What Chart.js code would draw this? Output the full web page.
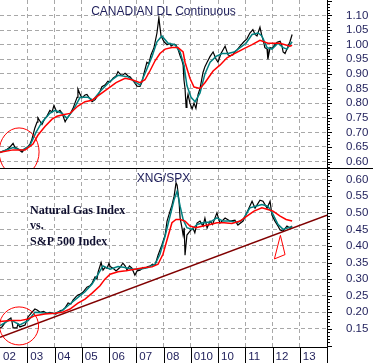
<!DOCTYPE html>
<html lang="en">
<head>
  <meta charset="UTF-8">
  <title>Canadian Dollar vs XNG/SPX</title>
  <style>
    body { margin: 0; background: #fff; }
    #chart { display: block; }
  </style>
</head>
<body>
  <canvas id="chart" width="373" height="363"></canvas>

  <script src="https://cdn.jsdelivr.net/npm/chart.js"></script>
  <script>
    // ---- data (dates as decimal years) ----
    // Canadian dollar, continuous contract
    const cadDates = [2002.00, 2002.07, 2002.18, 2002.26, 2002.37, 2002.48, 2002.55, 2002.62, 2002.73, 2002.81, 2002.92, 2002.99,
      2003.10, 2003.17, 2003.28, 2003.36, 2003.39, 2003.47, 2003.54, 2003.65, 2003.72, 2003.83, 2003.91, 2003.98,
      2004.09, 2004.20, 2004.28, 2004.39, 2004.46, 2004.57, 2004.68, 2004.75, 2004.83, 2004.86, 2004.94,
      2005.01, 2005.12, 2005.19, 2005.30, 2005.38, 2005.49, 2005.56, 2005.67, 2005.74, 2005.85, 2005.96,
      2006.04, 2006.15, 2006.26, 2006.33, 2006.40, 2006.48, 2006.59, 2006.70, 2006.77, 2006.88, 2006.95,
      2007.03, 2007.14, 2007.21, 2007.28, 2007.39, 2007.46, 2007.54, 2007.65, 2007.76, 2007.83, 2007.87, 2007.91,
      2008.02, 2008.13, 2008.24, 2008.28, 2008.39, 2008.46, 2008.53, 2008.61, 2008.68, 2008.72, 2008.75, 2008.79, 2008.83, 2008.86, 2008.90, 2008.97,
      2009.05, 2009.12, 2009.19, 2009.27, 2009.34, 2009.45, 2009.52, 2009.60, 2009.71, 2009.82, 2009.93,
      2010.00, 2010.11, 2010.26, 2010.37, 2010.44, 2010.55, 2010.62, 2010.70, 2010.81, 2010.95,
      2011.06, 2011.17, 2011.28, 2011.36, 2011.43, 2011.54, 2011.61, 2011.65, 2011.72, 2011.80, 2011.83, 2011.91, 2011.98,
      2012.09, 2012.17, 2012.28, 2012.35, 2012.39, 2012.46, 2012.53, 2012.64, 2012.72];
    const cadClose = [0.630, 0.634, 0.638, 0.642, 0.650, 0.662, 0.648, 0.646, 0.638, 0.632, 0.644, 0.648,
      0.660, 0.676, 0.715, 0.735, 0.750, 0.738, 0.727, 0.748, 0.755, 0.775, 0.770, 0.792,
      0.768, 0.775, 0.765, 0.736, 0.748, 0.762, 0.782, 0.800, 0.820, 0.848, 0.830,
      0.818, 0.828, 0.830, 0.815, 0.805, 0.812, 0.822, 0.840, 0.856, 0.862, 0.875,
      0.872, 0.885, 0.893, 0.908, 0.900, 0.895, 0.902, 0.893, 0.890, 0.878, 0.868,
      0.858, 0.857, 0.872, 0.900, 0.940, 0.935, 0.965, 0.990, 1.040, 1.092, 1.060, 1.030,
      1.010, 1.000, 1.005, 0.995, 1.002, 0.998, 0.985, 0.962, 0.945, 0.930, 0.880, 0.850, 0.785, 0.810, 0.830, 0.800,
      0.780, 0.800, 0.782, 0.830, 0.850, 0.905, 0.925, 0.940, 0.960, 0.975, 0.950,
      0.940, 0.970, 0.995, 0.965, 0.962, 0.966, 0.975, 0.982, 0.995, 1.010,
      1.020, 1.040, 1.052, 1.035, 1.030, 1.060, 1.030, 1.018, 0.990, 0.985, 0.950, 0.990, 0.988,
      1.000, 1.008, 1.012, 0.995, 0.975, 0.970, 0.985, 1.010, 1.035];

    const cadFastDates = [2002.00, 2002.48, 2002.81, 2003.10, 2003.32, 2003.54, 2003.83, 2004.02, 2004.28, 2004.46, 2004.68, 2004.94,
      2005.23, 2005.41, 2005.67, 2006.04, 2006.33, 2006.70, 2006.95, 2007.14, 2007.36, 2007.58, 2007.76, 2007.94,
      2008.17, 2008.42, 2008.61, 2008.75, 2008.86, 2009.01, 2009.16, 2009.34, 2009.52, 2009.71, 2009.93,
      2010.15, 2010.37, 2010.59, 2010.81, 2011.03, 2011.25, 2011.47, 2011.61, 2011.80, 2011.98, 2012.20, 2012.39, 2012.53, 2012.72];
    const cadFast = [0.632, 0.648, 0.638, 0.655, 0.700, 0.735, 0.765, 0.775, 0.765, 0.748, 0.775, 0.820,
      0.820, 0.810, 0.840, 0.875, 0.895, 0.890, 0.873, 0.862, 0.910, 0.960, 1.010, 1.030,
      1.005, 1.000, 0.975, 0.930, 0.860, 0.820, 0.805, 0.835, 0.900, 0.940, 0.960,
      0.970, 0.970, 0.975, 0.990, 1.005, 1.035, 1.040, 1.030, 0.990, 0.985, 1.005, 0.990, 0.985, 1.010];

    const cadSlowDates = [2002.00, 2002.48, 2002.92, 2003.21, 2003.39, 2003.65, 2003.91, 2004.09, 2004.31, 2004.57, 2004.86,
      2005.12, 2005.38, 2005.67, 2005.96, 2006.26, 2006.59, 2006.84, 2007.14, 2007.32, 2007.50, 2007.69, 2007.87,
      2008.06, 2008.31, 2008.53, 2008.72, 2008.79, 2008.97, 2009.12, 2009.34, 2009.52, 2009.82,
      2010.07, 2010.33, 2010.62, 2010.92, 2011.25, 2011.54, 2011.83, 2012.28, 2012.64, 2012.72];
    const cadSlow = [0.632, 0.640, 0.640, 0.660, 0.690, 0.720, 0.745, 0.755, 0.760, 0.765, 0.790,
      0.805, 0.810, 0.830, 0.850, 0.870, 0.885, 0.880, 0.870, 0.880, 0.910, 0.945, 0.970,
      0.985, 0.990, 0.990, 0.975, 0.940, 0.885, 0.855, 0.850, 0.870, 0.910,
      0.930, 0.955, 0.970, 0.985, 1.000, 1.015, 1.005, 1.005, 0.995, 0.998];

    // Natural gas index / S&P 500 ratio
    const xngDates = [2002.00, 2002.07, 2002.18, 2002.29, 2002.40, 2002.44, 2002.48, 2002.62, 2002.66, 2002.73, 2002.92,
      2003.03, 2003.17, 2003.28, 2003.36, 2003.47, 2003.60, 2003.72, 2003.83, 2003.94,
      2004.05, 2004.13, 2004.22, 2004.31, 2004.40, 2004.50, 2004.60, 2004.68, 2004.80, 2004.86, 2004.95,
      2005.05, 2005.19, 2005.30, 2005.38, 2005.49, 2005.56, 2005.60, 2005.71, 2005.78, 2005.85, 2005.93,
      2006.00, 2006.04, 2006.15, 2006.26, 2006.40, 2006.51, 2006.59, 2006.66, 2006.75, 2006.84, 2006.95,
      2007.03, 2007.14, 2007.25, 2007.32, 2007.43, 2007.50, 2007.60, 2007.69, 2007.80, 2007.94,
      2008.06, 2008.13, 2008.24, 2008.31, 2008.39, 2008.46, 2008.50, 2008.57, 2008.61, 2008.68, 2008.72, 2008.76, 2008.79, 2008.86, 2008.97,
      2009.08, 2009.15, 2009.23, 2009.34, 2009.45, 2009.52, 2009.60, 2009.71, 2009.80, 2009.96,
      2010.07, 2010.26, 2010.44, 2010.62, 2010.73, 2010.92,
      2011.10, 2011.25, 2011.36, 2011.54, 2011.65, 2011.80, 2011.91, 2011.98,
      2012.09, 2012.20, 2012.28, 2012.39, 2012.53, 2012.64, 2012.72];
    const xngClose = [0.153, 0.156, 0.168, 0.177, 0.183, 0.172, 0.153, 0.153, 0.165, 0.156, 0.162,
      0.186, 0.200, 0.210, 0.207, 0.200, 0.203, 0.197, 0.200, 0.197,
      0.195, 0.200, 0.205, 0.207, 0.215, 0.228, 0.225, 0.237, 0.248, 0.252, 0.255,
      0.261, 0.276, 0.280, 0.288, 0.307, 0.300, 0.321, 0.350, 0.327, 0.335, 0.333,
      0.348, 0.338, 0.333, 0.325, 0.335, 0.348, 0.340, 0.327, 0.340, 0.333, 0.312,
      0.325, 0.327, 0.335, 0.333, 0.338, 0.339, 0.345, 0.342, 0.372, 0.403,
      0.433, 0.475, 0.505, 0.523, 0.550, 0.590, 0.583, 0.535, 0.484, 0.454, 0.433, 0.455, 0.372, 0.433, 0.445,
      0.454, 0.440, 0.469, 0.475, 0.460, 0.484, 0.454, 0.475, 0.465, 0.500,
      0.469, 0.484, 0.475, 0.478, 0.463, 0.475,
      0.508, 0.535, 0.514, 0.538, 0.535, 0.514, 0.535, 0.493,
      0.475, 0.460, 0.448, 0.445, 0.460, 0.454, 0.460];

    const xngFastDates = [2002.00, 2002.37, 2002.73, 2003.03, 2003.28, 2003.65, 2004.02, 2004.28, 2004.57, 2004.86,
      2005.12, 2005.38, 2005.60, 2005.78, 2006.04, 2006.33, 2006.59, 2006.88, 2007.14, 2007.43, 2007.69, 2007.87,
      2008.06, 2008.24, 2008.39, 2008.50, 2008.61, 2008.72, 2008.86, 2009.05, 2009.23, 2009.45, 2009.71, 2009.96,
      2010.18, 2010.44, 2010.70, 2010.92, 2011.17, 2011.39, 2011.61, 2011.83, 2012.02, 2012.20, 2012.39, 2012.57, 2012.72];
    const xngFast = [0.160, 0.178, 0.162, 0.175, 0.200, 0.198, 0.197, 0.205, 0.225, 0.245,
      0.262, 0.285, 0.315, 0.340, 0.330, 0.338, 0.335, 0.330, 0.330, 0.335, 0.345, 0.375,
      0.430, 0.490, 0.540, 0.565, 0.520, 0.480, 0.455, 0.450, 0.465, 0.470, 0.472, 0.485,
      0.475, 0.475, 0.470, 0.480, 0.515, 0.520, 0.525, 0.520, 0.495, 0.465, 0.450, 0.455, 0.458];

    const xngSlowDates = [2002.00, 2002.37, 2002.73, 2003.03, 2003.28, 2003.65, 2004.02, 2004.28, 2004.57, 2004.86,
      2005.12, 2005.38, 2005.67, 2005.85, 2006.04, 2006.33, 2006.62, 2006.95, 2007.32, 2007.58, 2007.80, 2007.98,
      2008.17, 2008.31, 2008.46, 2008.61, 2008.79, 2008.97, 2009.19, 2009.45, 2009.71, 2009.96,
      2010.22, 2010.51, 2010.81, 2011.06, 2011.32, 2011.61, 2011.83, 2012.02, 2012.28, 2012.50, 2012.72];
    const xngSlow = [0.172, 0.175, 0.175, 0.180, 0.190, 0.195, 0.197, 0.200, 0.210, 0.228,
      0.240, 0.258, 0.280, 0.300, 0.315, 0.322, 0.325, 0.330, 0.335, 0.337, 0.345, 0.375,
      0.430, 0.470, 0.480, 0.480, 0.475, 0.460, 0.455, 0.460, 0.465, 0.470,
      0.470, 0.468, 0.475, 0.490, 0.505, 0.515, 0.510, 0.505, 0.490, 0.480, 0.475];

    // support trend line under the ratio
    const trendDates = [2002, 2014];
    const trendValues = [0.125, 0.493];

    // hand-drawn marks: circles around the 2002 lows, arrow under the 2012 low
    const circleTop = { year: 2002.70, value: 0.633 };
    const circleBot = { year: 2002.70, value: 0.159 };
    const arrowYears = [2012.29, 2012.07, 2012.46];
    const arrowValues = [0.432, 0.361, 0.374];

    const yearTicks = [2002, 2003, 2004, 2005, 2006, 2007, 2008, 2009, 2010, 2011, 2012, 2013];
    const yearLabels = ['02', '03', '04', '05', '06', '07', '08', '010', '10', '11', '12', '13'];

    const zip = (xs, ys) => xs.slice(0, Math.min(xs.length, ys.length)).map((x, i) => ({ x: x, y: ys[i] }));

    const TEXT = '#1e1e5a';
    const GRID = '#a8a8a8';
    const sansFont = { family: '"Liberation Sans", Arial, sans-serif', size: 11.5 };

    function noPadding(s) {
      s.paddingTop = 0; s.paddingBottom = 0; s.paddingLeft = 0; s.paddingRight = 0;
    }

    function line(data, axis, color, width, order) {
      return {
        data: data, yAxisID: axis, borderColor: color, borderWidth: width,
        pointRadius: 0, tension: 0, fill: false, order: order
      };
    }

    // right-axis minor ticks, year separators, titles and hand drawn marks
    const decorations = {
      id: 'decorations',
      afterDatasetsDraw(chart) {
        const { ctx, chartArea, scales } = chart;
        const x = scales.x;
        ctx.save();
        ctx.strokeStyle = '#ff0000';
        ctx.lineWidth = 1;
        [[scales.yTop, circleTop, 20, 24], [scales.yBot, circleBot, 19.5, 19]].forEach(([ys, c, rx, ry]) => {
          ctx.save();
          ctx.beginPath();
          ctx.rect(chartArea.left, ys.top, chartArea.right - chartArea.left, ys.bottom - ys.top);
          ctx.clip();
          ctx.beginPath();
          ctx.ellipse(x.getPixelForValue(c.year), ys.getPixelForValue(c.value), rx, ry, 0, 0, Math.PI * 2);
          ctx.stroke();
          ctx.restore();
        });
        ctx.beginPath();
        arrowYears.forEach((yr, i) => {
          const px = x.getPixelForValue(yr);
          const py = scales.yBot.getPixelForValue(arrowValues[i]);
          if (i === 0) ctx.moveTo(px, py); else ctx.lineTo(px, py);
        });
        ctx.closePath();
        ctx.stroke();
        ctx.restore();
      },
      afterDraw(chart) {
        const { ctx, chartArea, scales, width, height } = chart;
        const x = scales.x;
        ctx.save();
        ctx.strokeStyle = '#000';
        ctx.lineWidth = 1;

        // tick marks on the right axes, every 0.01, longer every 0.05
        [scales.yTop, scales.yBot].forEach(ys => {
          const lo = Math.ceil(ys.min * 100), hi = Math.floor(ys.max * 100);
          ctx.beginPath();
          for (let k = lo; k <= hi; k++) {
            const py = Math.round(ys.getPixelForValue(k / 100)) + 0.5;
            const len = k % 5 === 0 ? 5 : 3;
            ctx.moveTo(ys.left, py);
            ctx.lineTo(ys.left + len, py);
          }
          ctx.stroke();
        });

        // year separators through the date row
        ctx.beginPath();
        for (let yr = 2003; yr <= 2014; yr++) {
          const px = Math.round(x.getPixelForValue(yr)) + 0.5;
          ctx.moveTo(px, chartArea.bottom);
          ctx.lineTo(px, height);
        }
        ctx.stroke();

        // panel separator across the full width
        const sep = Math.round(scales.yTop.bottom) + 0.5;
        ctx.beginPath();
        ctx.moveTo(0, sep);
        ctx.lineTo(width, sep);
        ctx.stroke();

        // titles
        const cx = (chartArea.left + chartArea.right) / 2;
        ctx.fillStyle = TEXT;
        ctx.textAlign = 'center';
        ctx.textBaseline = 'alphabetic';
        ctx.font = '12px "Liberation Sans", Arial, sans-serif';
        ctx.fillText('CANADIAN DL Continuous', cx, 15);
        ctx.fillText('XNG/SPX', cx, scales.yBot.top + 13.5);

        ctx.fillStyle = '#101030';
        ctx.textAlign = 'left';
        ctx.font = 'bold 12px "Liberation Serif", "Times New Roman", serif';
        const t0 = scales.yBot.top;
        ctx.fillText('Natural Gas Index', 30, t0 + 46);
        ctx.fillText('vs.', 30, t0 + 61);
        ctx.fillText('S&P 500 Index', 30, t0 + 77);
        ctx.restore();
      }
    };

    new Chart(document.getElementById('chart'), {
      type: 'line',
      data: {
        datasets: [
          line(zip(cadDates, cadClose), 'yTop', '#000000', 1.2, 4),
          line(zip(cadFastDates, cadFast), 'yTop', '#008080', 1.5, 3),
          line(zip(cadSlowDates, cadSlow), 'yTop', '#ff0000', 1.5, 2),
          line(zip(xngDates, xngClose), 'yBot', '#000000', 1.2, 4),
          line(zip(xngFastDates, xngFast), 'yBot', '#008080', 1.5, 3),
          line(zip(xngSlowDates, xngSlow), 'yBot', '#ff0000', 1.5, 2),
          line(zip(trendDates, trendValues), 'yBot', '#800000', 1.5, 1)
        ]
      },
      options: {
        responsive: false,
        animation: false,
        devicePixelRatio: 1,
        layout: { padding: 0 },
        plugins: { legend: { display: false }, tooltip: { enabled: false } },
        scales: {
          x: {
            type: 'linear',
            min: 2002,
            max: 2014,
            afterBuildTicks: s => { s.ticks = yearTicks.map(v => ({ value: v })); },
            afterFit: s => { s.height = 16; noPadding(s); },
            ticks: {
              autoSkip: false,
              maxRotation: 0,
              align: 'start',
              labelOffset: 3,
              padding: 3,
              color: TEXT,
              font: sansFont,
              callback: (v, i) => yearLabels[i]
            },
            grid: {
              drawTicks: false,
              color: c => (c.tick && c.tick.value === 2002) ? 'transparent' : GRID
            },
            border: { color: '#000', width: 1, dash: [4, 3] }
          },
          yTop: {
            type: 'linear',
            position: 'right',
            stack: 'panels',
            stackWeight: 168,
            min: 0.578,
            max: 1.153,
            afterFit: s => { s.width = 46; noPadding(s); },
            ticks: {
              stepSize: 0.05,
              includeBounds: false,
              autoSkip: false,
              padding: 19,
              color: TEXT,
              font: sansFont,
              callback: v => v <= 1.101 ? v.toFixed(2) : ''
            },
            grid: {
              drawTicks: false,
              color: c => (c.tick && c.tick.value > 1.101) ? 'transparent' : GRID
            },
            border: { color: '#000', width: 1, dash: [4, 3] }
          },
          yBot: {
            type: 'linear',
            position: 'right',
            stack: 'panels',
            stackWeight: 179,
            min: 0.0955,
            max: 0.635,
            afterFit: s => { s.width = 46; noPadding(s); },
            ticks: {
              stepSize: 0.05,
              includeBounds: false,
              autoSkip: false,
              padding: 19,
              color: TEXT,
              font: sansFont,
              callback: v => v >= 0.149 ? v.toFixed(2) : ''
            },
            grid: {
              drawTicks: false,
              color: c => (c.tick && c.tick.value < 0.149) ? 'transparent' : GRID
            },
            border: { color: '#000', width: 1, dash: [4, 3] }
          }
        }
      },
      plugins: [decorations]
    });
  </script>
</body>
</html>
